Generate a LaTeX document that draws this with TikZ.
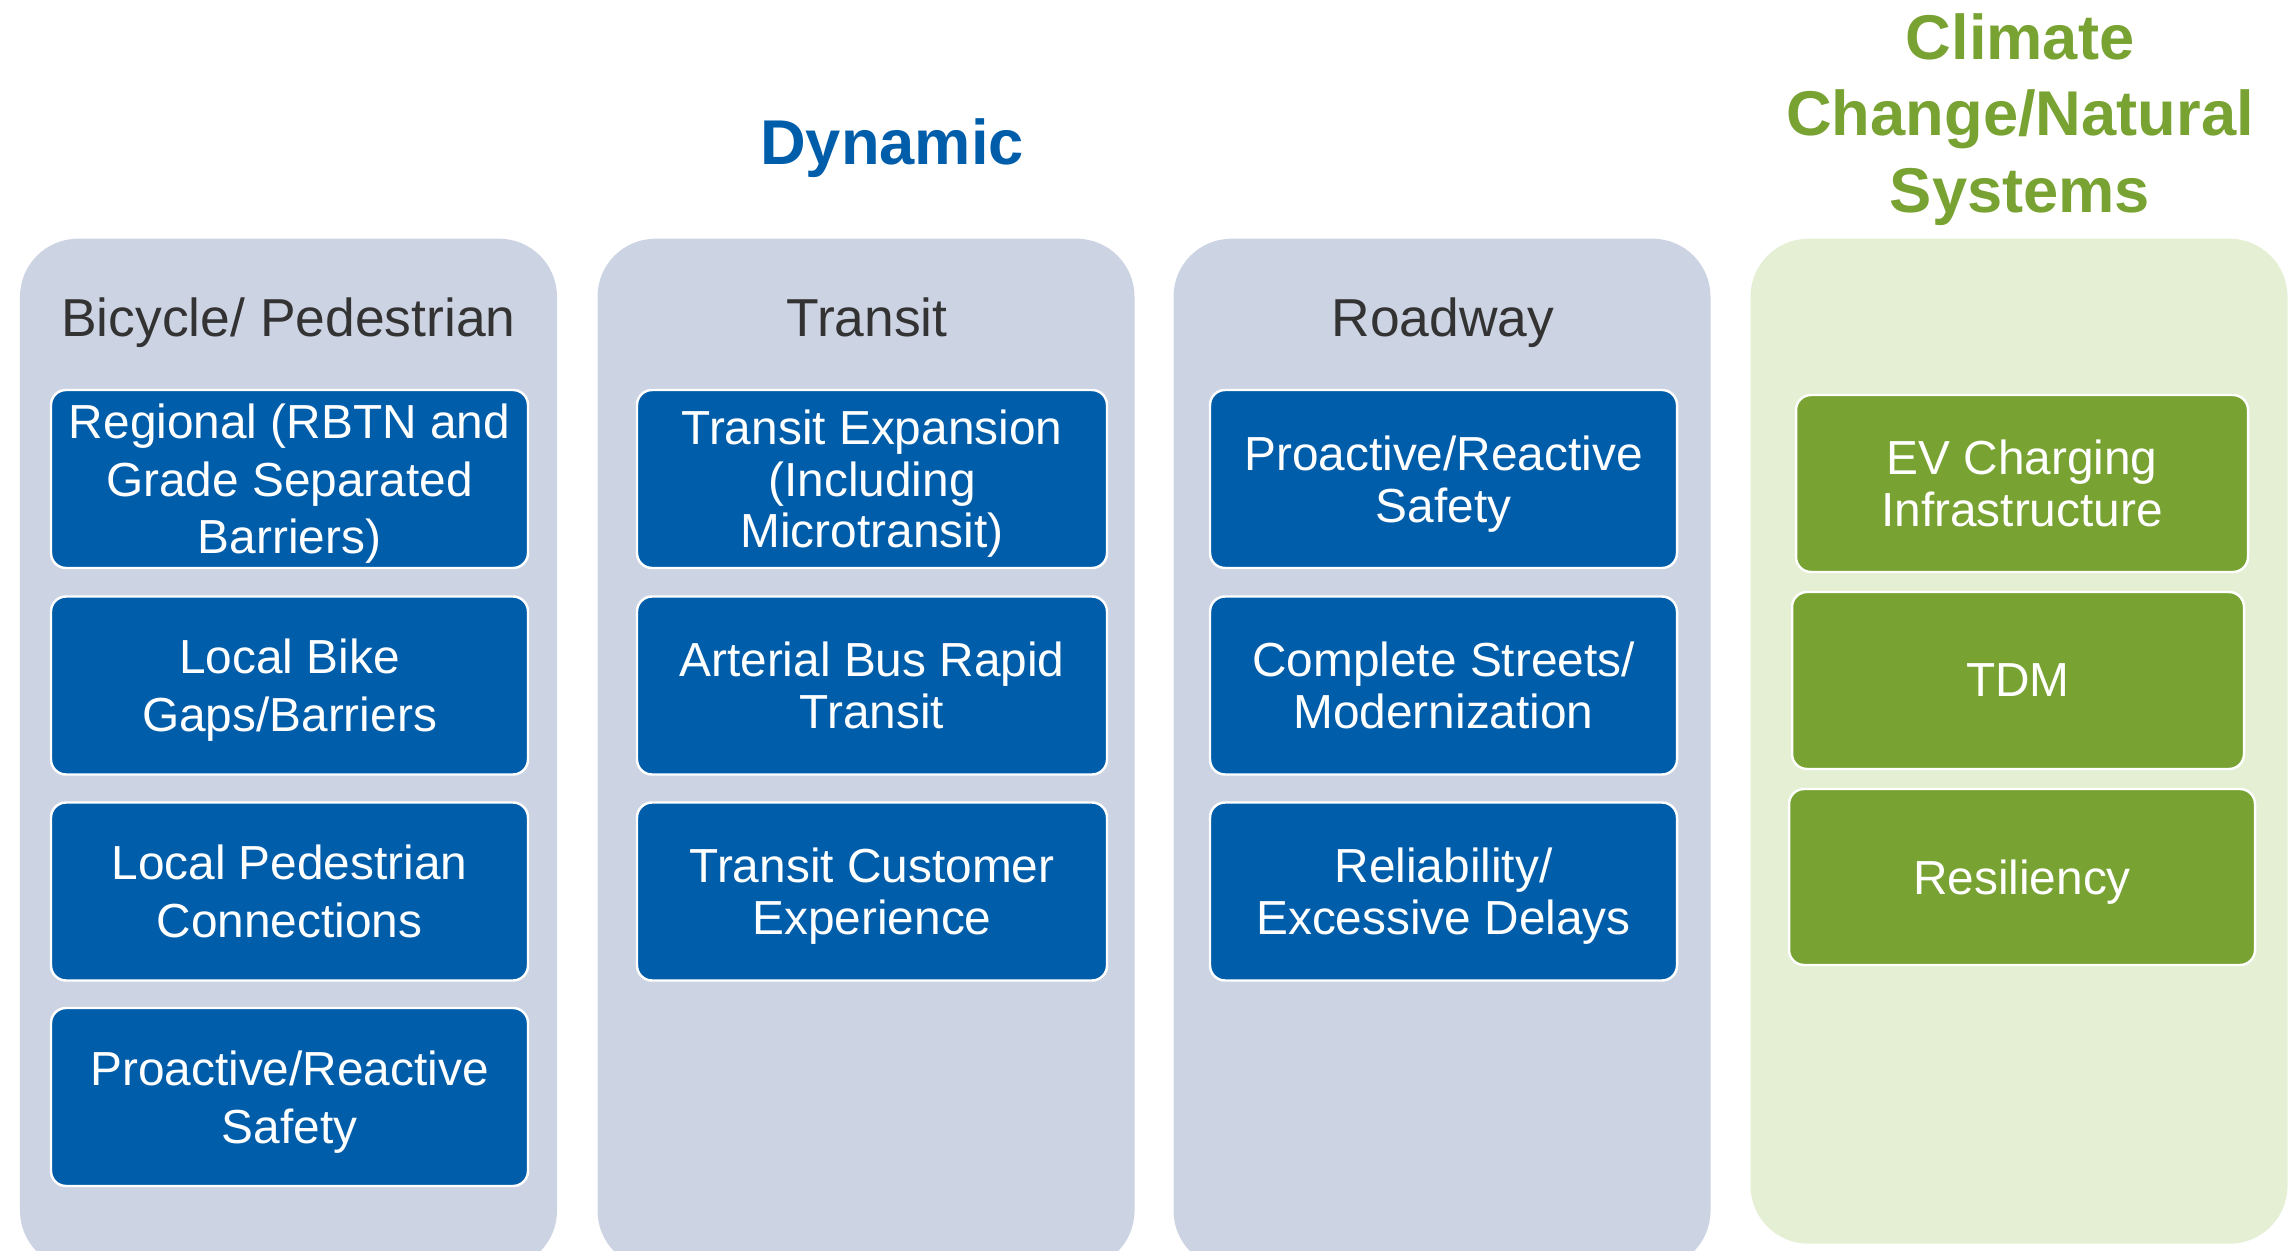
\documentclass[tikz,border=0pt]{standalone}
\usepackage{fontspec}
\setmainfont{Liberation Sans}
\definecolor{dynblue}{HTML}{005DAA}
\definecolor{panelgray}{HTML}{CCD3E3}
\definecolor{natgreen}{HTML}{78A232}
\definecolor{panelgreen}{HTML}{E4EFD4}
\definecolor{titlegray}{HTML}{333333}
\tikzset{
	panel/.style={fill=panelgray, rounded corners=5.8mm, minimum width=5.37cm, minimum height=10.3cm, anchor=north, inner sep=0pt},
	coltitle/.style={text=titlegray, text depth=0pt, font=\fontsize{15.2}{18}\selectfont},
	item/.style={fill=dynblue, draw=white, line width=.7pt, rounded corners=1.5mm, text=white, align=center, text depth=0pt, minimum height=1.78cm, inner sep=0pt, font=\fontsize{13.6}{14.7}\selectfont},
	bikeitem/.style={item, minimum width=4.77cm, font=\fontsize{13.6}{16.4}\selectfont},
	header/.style={align=center, text depth=0pt, font=\fontsize{18}{21.8}\selectfont\bfseries}
}
\begin{document}
\begin{tikzpicture}
				\useasboundingbox (0,0) rectangle (22.92,-12.51);
				\node[header, text=dynblue] (dynamic) at (8.92,-1.42) {Dynamic};
				\node[header, text=natgreen] (climate) at (20.20,-1.13) {Climate\\Change/Natural\\Systems};
				
				\node[panel] (bikepanel) at (2.885,-2.38) {};
				\node[panel] (transitpanel) at (8.66,-2.38) {};
				\node[panel] (roadpanel) at (14.42,-2.38) {};
				\node[panel, fill=panelgreen, minimum height=10.05cm] (climatepanel) at (20.19,-2.38) {};
				
				\node[coltitle] (biketitle) at (2.885,-3.17) {Bicycle/ Pedestrian};
				\node[coltitle] (transittitle) at (8.67,-3.17) {Transit};
				\node[coltitle] (roadtitle) at (14.43,-3.17) {Roadway};
				
				\node[bikeitem] (regional) at (2.895,-4.79) {Regional (RBTN and\\Grade Separated\\Barriers)};
				\node[bikeitem] (bikegaps) at (2.895,-6.855) {Local Bike\\Gaps/Barriers};
				\node[bikeitem] (pedconn) at (2.895,-8.915) {Local Pedestrian\\Connections};
				\node[bikeitem] (bikesafety) at (2.895,-10.97) {Proactive/Reactive\\Safety};
				
				\node[item, minimum width=4.70cm] (expansion) at (8.72,-4.79) {Transit Expansion\\(Including\\Microtransit)};
				\node[item, minimum width=4.70cm] (brt) at (8.72,-6.855) {Arterial Bus Rapid\\Transit};
				\node[item, minimum width=4.70cm] (custexp) at (8.72,-8.915) {Transit Customer\\Experience};
				
				\node[item, minimum width=4.67cm] (roadsafety) at (14.435,-4.79) {Proactive/Reactive\\Safety};
				\node[item, minimum width=4.67cm] (complete) at (14.435,-6.855) {Complete Streets/\\Modernization};
				\node[item, minimum width=4.67cm] (reliability) at (14.435,-8.915) {Reliability/\\Excessive Delays};
				
				\node[item, fill=natgreen, minimum width=4.52cm, minimum height=1.77cm] (evcharge) at (20.22,-4.835) {EV Charging\\Infrastructure};
				\node[item, fill=natgreen, minimum width=4.52cm, minimum height=1.77cm] (tdm) at (20.18,-6.805) {TDM};
				\node[item, fill=natgreen, minimum width=4.66cm, minimum height=1.76cm] (resiliency) at (20.22,-8.77) {Resiliency};
\end{tikzpicture}
\end{document}
